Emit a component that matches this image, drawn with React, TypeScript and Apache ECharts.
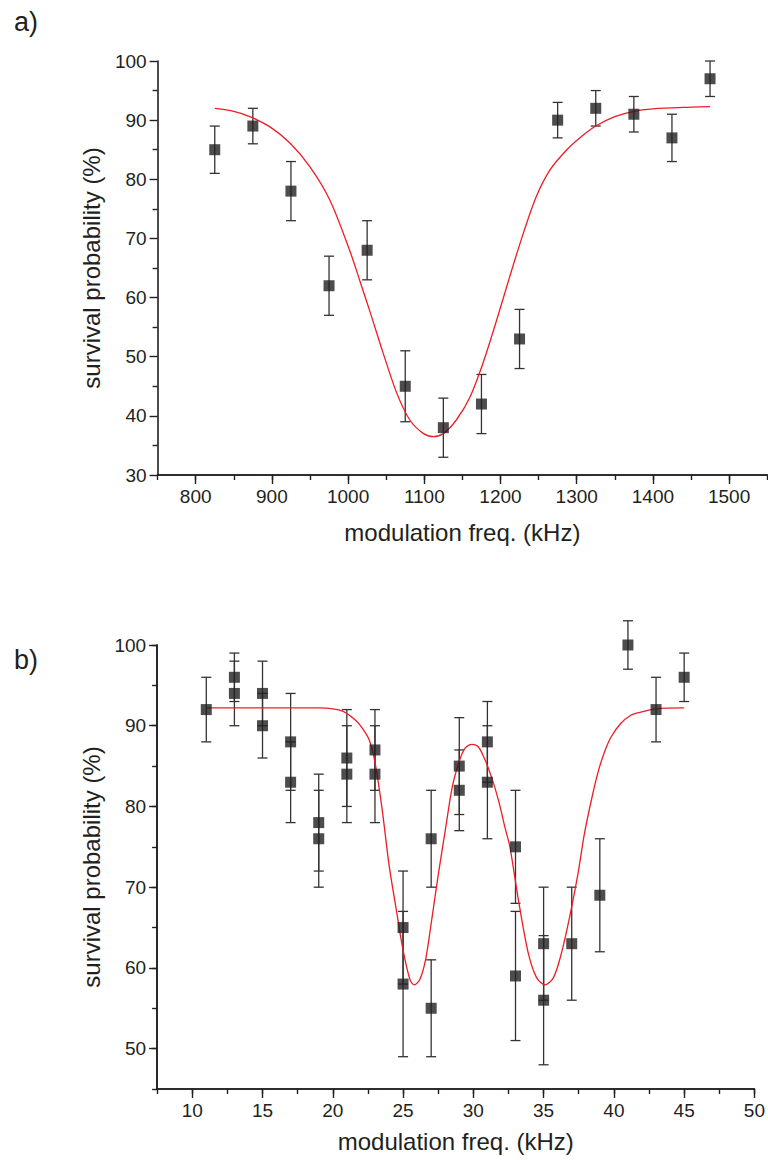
import React, { useEffect, useRef } from "react";
import * as echarts from "echarts";

// ---------- Panel a ----------
const aX = [825, 875, 925, 975, 1025, 1075, 1125, 1175, 1225, 1275, 1325, 1375, 1425, 1475];
const aY = [85, 89, 78, 62, 68, 45, 38, 42, 53, 90, 92, 91, 87, 97];
const aErr = [4, 3, 5, 5, 5, 6, 5, 5, 5, 3, 3, 3, 4, 3];
const aFitX = [825, 850, 871, 897, 924, 950, 976, 1002, 1016, 1029, 1046, 1064, 1081, 1099, 1112, 1125, 1142, 1160, 1177, 1195, 1212, 1230, 1247, 1265, 1287, 1304, 1325, 1350, 1375, 1400, 1450, 1475];
const aFitY = [92.0, 91.5, 90.6, 88.9, 86.1, 82.1, 76.5, 68.0, 62.6, 57.5, 50.6, 43.8, 39.3, 37.0, 36.5, 37.0, 39.3, 43.2, 48.9, 56.2, 63.5, 70.9, 77.1, 81.6, 85.0, 87.0, 89.0, 90.6, 91.5, 91.9, 92.2, 92.3];
const aXTicks = [800, 900, 1000, 1100, 1200, 1300, 1400, 1500];

// ---------- Panel b ----------
const bX = [11, 13, 13, 15, 15, 17, 17, 19, 19, 21, 21, 23, 23, 25, 25, 27, 27, 29, 29, 31, 31, 33, 33, 35, 35, 37, 39, 41, 43, 45];
const bY = [92, 96, 94, 94, 90, 88, 83, 78, 76, 86, 84, 87, 84, 65, 58, 76, 55, 85, 82, 88, 83, 75, 59, 63, 56, 63, 69, 100, 92, 96];
const bErr = [4, 3, 4, 4, 4, 6, 5, 6, 6, 6, 6, 5, 6, 7, 9, 6, 6, 6, 5, 5, 7, 7, 8, 7, 8, 7, 7, 3, 4, 3];
const bFitX = [11, 13, 15, 17, 19, 20, 20.7, 21.6, 22.1, 22.6, 23.0, 23.5, 24.0, 24.5, 25.0, 25.5, 25.8, 26.2, 26.6, 27.0, 27.5, 28.0, 28.5, 29.0, 29.4, 29.9, 30.35, 30.8, 31.3, 31.8, 32.25, 32.6, 33.2, 33.9, 34.5, 35.1, 35.7, 36.25, 36.85, 37.45, 37.9, 38.4, 38.85, 39.3, 39.8, 40.5, 41.2, 41.7, 43, 45];
const bFitY = [92.2, 92.2, 92.2, 92.2, 92.2, 92.1, 91.8, 90.7, 89.7, 88.2, 85.5, 79.8, 72.8, 67.4, 62.2, 58.5, 57.9, 58.6, 61.0, 65.5, 71.5, 77.0, 82.4, 85.6, 87.2, 87.7, 87.4, 85.9, 83.6, 80.7, 77.4, 75.0, 68.5, 61.9, 58.8, 57.9, 58.8, 61.7, 66.3, 71.7, 76.6, 80.8, 84.1, 86.6, 88.6, 90.3, 91.3, 91.6, 92.1, 92.2];
const bXTicks = [10, 15, 20, 25, 30, 35, 40, 45, 50];
const bYTicks = [50, 60, 70, 80, 90, 100];

const INK = "#231f20";
const FONT = "Liberation Sans, Arial, Helvetica, sans-serif";

function zip3(xs: number[], ys: number[], es: number[]) {
  return xs.map((x, i) => [x, ys[i], es[i]]);
}
function zip2(xs: number[], ys: number[]) {
  return xs.map((x, i) => [x, ys[i]]);
}

function errorRender(params: any, api: any) {
  const x = api.value(0);
  const y = api.value(1);
  const e = api.value(2);
  const top = api.coord([x, y + e]);
  const bot = api.coord([x, y - e]);
  const w = 5;
  const st = { stroke: "#333333", lineWidth: 1.3 };
  return {
    type: "group",
    children: [
      { type: "line", shape: { x1: top[0], y1: top[1], x2: bot[0], y2: bot[1] }, style: st },
      { type: "line", shape: { x1: top[0] - w, y1: top[1], x2: top[0] + w, y2: top[1] }, style: st },
      { type: "line", shape: { x1: bot[0] - w, y1: bot[1], x2: bot[0] + w, y2: bot[1] }, style: st },
    ],
  };
}

const plain = (v: number) => String(v);
const axisLine = { show: true, lineStyle: { color: INK, width: 1.6 } };
const labelStyle = { color: INK, fontSize: 19, fontFamily: FONT, formatter: plain };
const nameStyle = { color: INK, fontSize: 24, fontFamily: FONT };

export default function App() {
  const ref = useRef<HTMLDivElement>(null);
  useEffect(() => {
    if (!ref.current) return;
    const chart = echarts.init(ref.current, undefined, { renderer: "svg" });
    const option: any = {
      animation: false,
      backgroundColor: "#ffffff",
      grid: [
        { left: 157.6, top: 61, width: 609.6, height: 414 },
        { left: 157.1, top: 645, width: 600.3, height: 444 },
      ],
      xAxis: [
        {
          type: "value", gridIndex: 0, min: 750, max: 1550, interval: 50, position: "bottom",
          axisLine, axisTick: { show: true, length: 5, lineStyle: { color: INK, width: 1.4 } },
          axisLabel: { show: false }, splitLine: { show: false },
        },
        {
          type: "value", gridIndex: 0, min: 750, max: 1550, interval: 50, position: "bottom",
          axisLine,
          axisTick: { show: true, length: 9, customValues: aXTicks, lineStyle: { color: INK, width: 1.4 } },
          axisLabel: { ...labelStyle, margin: 12, customValues: aXTicks },
          splitLine: { show: false },
          name: "modulation freq. (kHz)", nameLocation: "middle", nameGap: 45, nameTextStyle: nameStyle,
        },
        {
          type: "value", gridIndex: 1, min: 7.5, max: 50, interval: 2.5, position: "bottom",
          axisLine, axisTick: { show: true, length: 5, lineStyle: { color: INK, width: 1.4 } },
          axisLabel: { show: false }, splitLine: { show: false },
        },
        {
          type: "value", gridIndex: 1, min: 7.5, max: 50, interval: 2.5, position: "bottom",
          axisLine,
          axisTick: { show: true, length: 9, customValues: bXTicks, lineStyle: { color: INK, width: 1.4 } },
          axisLabel: { ...labelStyle, margin: 12, customValues: bXTicks },
          splitLine: { show: false },
          name: "modulation freq. (kHz)", nameLocation: "middle", nameGap: 40, nameTextStyle: nameStyle,
        },
      ],
      yAxis: [
        {
          type: "value", gridIndex: 0, min: 30, max: 100, interval: 10, position: "left",
          axisLine,
          axisTick: { show: true, length: 8, lineStyle: { color: INK, width: 1.4 } },
          minorTick: { show: true, splitNumber: 2, length: 5, lineStyle: { color: INK, width: 1.4 } },
          axisLabel: { ...labelStyle, margin: 11 },
          splitLine: { show: false },
          name: "survival probability (%)", nameLocation: "middle", nameGap: 50, nameTextStyle: nameStyle,
        },
        {
          type: "value", gridIndex: 1, min: 45, max: 100, interval: 5, position: "left",
          axisLine, axisTick: { show: true, length: 5, lineStyle: { color: INK, width: 1.4 } },
          axisLabel: { show: false }, splitLine: { show: false },
        },
        {
          type: "value", gridIndex: 1, min: 45, max: 100, interval: 5, position: "left",
          axisLine,
          axisTick: { show: true, length: 8, customValues: bYTicks, lineStyle: { color: INK, width: 1.4 } },
          axisLabel: { ...labelStyle, margin: 11, customValues: bYTicks },
          splitLine: { show: false },
          name: "survival probability (%)", nameLocation: "middle", nameGap: 50, nameTextStyle: nameStyle,
        },
      ],
      graphic: [
        { type: "text", left: 14, top: 8, style: { text: "a)", fontSize: 27, fontFamily: FONT, fill: INK } },
        { type: "text", left: 14, top: 646, style: { text: "b)", fontSize: 27, fontFamily: FONT, fill: INK } },
      ],
      series: [
        {
          type: "line", xAxisIndex: 0, yAxisIndex: 0, data: zip2(aFitX, aFitY), smooth: 0.3,
          showSymbol: false, lineStyle: { color: "#ee1c24", width: 1.3 }, z: 3,
        },
        {
          type: "custom", xAxisIndex: 0, yAxisIndex: 0, data: zip3(aX, aY, aErr),
          renderItem: errorRender, encode: { x: 0, y: 1 }, clip: false, z: 2,
        },
        {
          type: "scatter", xAxisIndex: 0, yAxisIndex: 0, data: zip2(aX, aY), symbol: "rect",
          symbolSize: 11, itemStyle: { color: INK }, z: 4,
        },
        {
          type: "line", xAxisIndex: 2, yAxisIndex: 1, data: zip2(bFitX, bFitY), smooth: 0.3,
          showSymbol: false, lineStyle: { color: "#ee1c24", width: 1.3 }, z: 3,
        },
        {
          type: "custom", xAxisIndex: 2, yAxisIndex: 1, data: zip3(bX, bY, bErr),
          renderItem: errorRender, encode: { x: 0, y: 1 }, clip: false, z: 2,
        },
        {
          type: "scatter", xAxisIndex: 2, yAxisIndex: 1, data: zip2(bX, bY), symbol: "rect",
          symbolSize: 11, itemStyle: { color: INK }, z: 4,
        },
      ],
    };
    chart.setOption(option);
    return () => chart.dispose();
  }, []);
  return (
    <div
      ref={ref}
      style={{ position: "absolute", left: 0, top: 0, width: 768, height: 1160, background: "#fff" }}
    />
  );
}
